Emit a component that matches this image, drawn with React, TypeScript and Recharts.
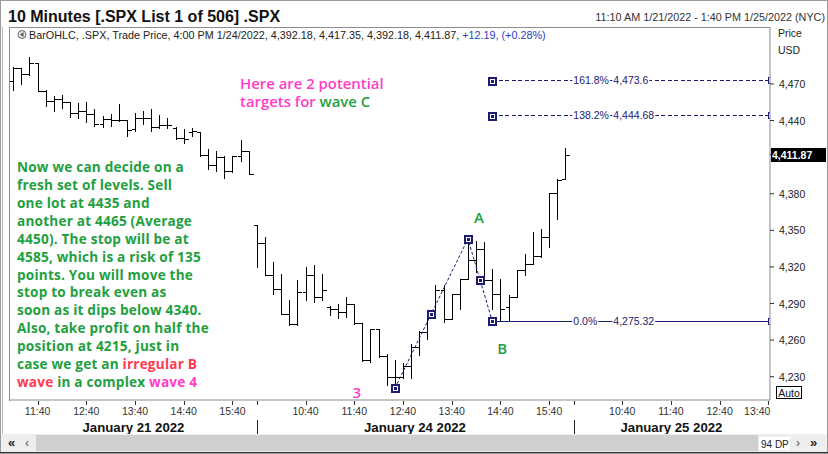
import React from 'react';
import {
  ComposedChart,
  Bar,
  Line,
  Scatter,
  XAxis,
  YAxis,
  ReferenceLine,
  ReferenceDot,
} from 'recharts';

// ---- 10-minute OHLC bars: Jan 21 11:10 (slot 0) through Jan 24 16:00 (slot 68) ----
const opens = [
  4472.8, 4483.1, 4478.5, 4486.9, 4464.6, 4456.4, 4457.3, 4455.1, 4446.4, 4447.7,
  4445.5, 4436.8, 4440.9, 4440.1, 4440.1, 4432.8, 4441.7, 4442.3, 4434.7, 4436.3,
  4434.1, 4425.4, 4430.9, 4430.9, 4411.8, 4403.6, 4410.2, 4398.7, 4411.0, 4415.1,
  4354.6, 4339.4, 4313.0, 4302.1, 4281.7, 4273.0, 4299.4, 4313.0, 4295.3, 4287.2,
  4285.8, 4283.1, 4289.3, 4274.1, 4243.6, 4269.5, 4246.9, 4230.0, 4230.0, 4238.7,
  4254.5, 4266.8, 4281.7, 4300.8, 4277.6, 4298.0, 4310.3, 4325.8, 4334.8, 4308.9,
  4298.0, 4287.2, 4295.3, 4317.1, 4322.5, 4329.3, 4344.3, 4381.0, 4392.18,
];
const highs = [
  4483.6, 4483.4, 4492.1, 4487.4, 4465.4, 4460.0, 4461.3, 4455.1, 4454.5, 4455.1,
  4449.1, 4443.6, 4445.0, 4453.2, 4440.1, 4446.4, 4447.7, 4449.1, 4444.5, 4441.7,
  4434.7, 4432.8, 4434.1, 4430.9, 4416.4, 4415.1, 4411.0, 4411.0, 4423.8, 4415.1,
  4354.6, 4344.8, 4323.9, 4314.4, 4292.6, 4308.9, 4319.8, 4321.2, 4313.8, 4287.7,
  4289.9, 4295.3, 4289.9, 4274.1, 4269.5, 4269.5, 4248.5, 4243.6, 4241.4, 4256.7,
  4267.6, 4284.4, 4304.8, 4304.8, 4298.0, 4310.3, 4343.05, 4341.6, 4340.2, 4318.5,
  4310.3, 4296.7, 4317.6, 4330.7, 4348.4, 4351.1, 4381.0, 4392.0, 4417.35,
];
const lows = [
  4465.4, 4470.0, 4477.6, 4464.6, 4451.8, 4447.7, 4450.4, 4442.8, 4442.3, 4439.0,
  4435.5, 4434.7, 4435.5, 4439.6, 4427.3, 4431.4, 4436.8, 4431.4, 4434.1, 4433.6,
  4424.6, 4421.9, 4427.3, 4411.0, 4400.1, 4398.7, 4393.3, 4398.2, 4406.9, 4396.0,
  4319.8, 4313.0, 4298.0, 4281.7, 4272.2, 4272.2, 4292.6, 4291.2, 4292.6, 4280.4,
  4278.5, 4279.0, 4273.6, 4243.1, 4242.3, 4245.8, 4223.2, 4220.5, 4228.7, 4228.7,
  4247.7, 4261.3, 4280.4, 4274.9, 4277.6, 4285.8, 4310.3, 4315.7, 4308.9, 4285.8,
  4275.32, 4276.0, 4295.3, 4313.0, 4322.5, 4328.0, 4336.1, 4359.3, 4392.18,
];
const closes = [
  4483.1, 4478.5, 4487.4, 4464.6, 4456.4, 4457.3, 4455.1, 4446.4, 4447.7, 4445.5,
  4436.8, 4440.9, 4440.1, 4440.1, 4432.2, 4441.7, 4442.3, 4434.7, 4436.3, 4436.3,
  4425.4, 4424.9, 4431.4, 4411.8, 4403.6, 4410.2, 4398.7, 4411.0, 4415.1, 4396.0,
  4339.4, 4313.0, 4302.1, 4281.7, 4273.0, 4299.4, 4313.0, 4295.3, 4300.8, 4285.8,
  4283.1, 4289.3, 4274.1, 4243.6, 4269.5, 4246.9, 4230.0, 4230.0, 4238.7, 4254.5,
  4266.8, 4281.7, 4300.8, 4277.6, 4298.0, 4310.3, 4325.8, 4334.8, 4308.9, 4298.0,
  4285.8, 4295.3, 4317.1, 4322.5, 4329.3, 4344.3, 4381.0, 4391.0, 4411.87,
];

// ---- time axis: 94 ten-minute slots (Jan 21, Jan 24, Jan 25 up to 13:40) ----
const timeTickSlots = [3, 9, 15, 21, 27, 30, 36, 42, 48, 54, 60, 66, 69, 75, 81, 87, 93];
const timeTickLabels = [
  '11:40', '12:40', '13:40', '14:40', '15:40', '',
  '10:40', '11:40', '12:40', '13:40', '14:40', '15:40', '',
  '10:40', '11:40', '12:40', '13:40',
];
const sessionBreaks = [30, 69];
const dayLabels = ['January 21 2022', 'January 24 2022', 'January 25 2022'];

// ---- price axis ----
const priceTicks = [4230, 4260, 4290, 4320, 4350, 4380, 4440, 4470];
const lastClose = 4411.87;

// ---- wave 3 / A / B anchors and Fibonacci projection levels ----
const waveAnchorNames = ['3', 'A', 'B'];
const waveAnchorSlots = [47, 56, 59];
const waveAnchorPrices = [4220.5, 4343.05, 4275.32];
const fibRatios = ['161.8%', '138.2%', '0.0%'];
const fibValues = [4473.6, 4444.68, 4275.32];

const X_DOMAIN: [number, number] = [-0.4, 93.2];
const Y_DOMAIN: [number, number] = [4210.9, 4516.7];

const GREEN = '#1fa03f';
const PINK = '#ff3cc8';
const RED = '#ff3a50';
const NAVY = '#1c1c72';
const FONT = '"Liberation Sans", Arial, sans-serif';
const NOTE_FONT = '"Open Sans", "DejaVu Sans", sans-serif';

const bars = opens.map((o, i) => ({
  i,
  open: o,
  high: highs[i],
  low: lows[i],
  close: closes[i],
}));

const waveLine = waveAnchorSlots.map((s, k) => ({ i: s, v: waveAnchorPrices[k] }));
// drawing-tool handles: each anchor plus the middle of each leg
const waveHandles = waveLine.flatMap((p, k) =>
  k === 0
    ? [p]
    : [{ i: (waveLine[k - 1].i + p.i) / 2, v: (waveLine[k - 1].v + p.v) / 2 }, p]
);

const fmt = (v: number, d = 0) =>
  v.toLocaleString('en-US', { minimumFractionDigits: d, maximumFractionDigits: d });
const fmtLevel = (v: number) => {
  const s = String(v);
  const d = s.includes('.') ? s.split('.')[1].length : 0;
  return fmt(v, d);
};

// approximate Arial advance widths, used to size the label knock-out boxes
const textWidth = (s: string, size: number) =>
  s.split('').reduce((w, ch) => {
    if (ch === '.' || ch === ',') return w + 0.278;
    if (ch === '%') return w + 0.889;
    return w + 0.556;
  }, 0) * size;

// one OHLC bar: high-low stem, open tick left, close tick right
const OhlcShape = (props: any) => {
  const { x, y, width, height, payload } = props;
  if (x == null || y == null || !payload) return null;
  const cx = Math.round(x + width / 2) + 0.5;
  const top = Math.min(y, y + height);
  const bottom = Math.max(y, y + height);
  const span = payload.high - payload.low;
  const k = span > 0 ? (bottom - top) / span : 0;
  const yo = Math.round(top + (payload.high - payload.open) * k) + 0.5;
  const yc = Math.round(top + (payload.high - payload.close) * k) + 0.5;
  return (
    <g stroke="#000" strokeWidth={1} shapeRendering="crispEdges">
      <line x1={cx} x2={cx} y1={Math.round(top)} y2={Math.round(bottom) + 1} />
      <line x1={cx - 4} x2={cx} y1={yo} y2={yo} />
      <line x1={cx} x2={cx + 4} y1={yc} y2={yc} />
    </g>
  );
};

const Handle = ({ cx, cy }: { cx: number; cy: number }) => {
  const x = Math.round(cx) + 0.5;
  const y = Math.round(cy) + 0.5;
  return (
    <g shapeRendering="crispEdges">
      <rect x={x - 3.5} y={y - 3.5} width={7} height={7} fill="#fff" stroke={NAVY} strokeWidth={1.3} />
      <rect x={x - 1.5} y={y - 1.5} width={3} height={3} fill={NAVY} />
    </g>
  );
};

const LevelText = ({ x, y, text }: { x: number; y: number; text: string }) => {
  const w = textWidth(text, 10.5);
  return (
    <g>
      <rect x={x - 1} y={y - 6} width={w + 2} height={12} fill="#fff" />
      <text x={x} y={y + 3.8} fontFamily={FONT} fontSize={10.5} fill={NAVY}>
        {text}
      </text>
    </g>
  );
};

const fibShape = (k: number) => (p: any) => {
  const { x1, y1, x2 } = p;
  const dashed = fibValues[k] !== waveAnchorPrices[2];
  const y = Math.round(y1) + 0.5;
  const bx = Math.round(x2) - 1.5;
  return (
    <g>
      <line
        x1={x1}
        x2={bx}
        y1={y}
        y2={y}
        stroke={NAVY}
        strokeWidth={1}
        strokeDasharray={dashed ? '4 2.5' : undefined}
        shapeRendering="crispEdges"
      />
      <path
        d={`M${bx + 1.5},${y - 3}H${bx}V${y + 3}H${bx + 1.5}`}
        fill="none"
        stroke={NAVY}
        strokeWidth={1}
        shapeRendering="crispEdges"
      />
      <LevelText x={x1 + 81} y={y} text={fibRatios[k]} />
      <LevelText x={x1 + 121} y={y} text={fmtLevel(fibValues[k])} />
      {dashed && <Handle cx={x1} cy={y} />}
    </g>
  );
};

const TimeTick = (p: any) => {
  const { x, y, payload } = p;
  const slot = payload.value;
  const k = timeTickSlots.indexOf(slot);
  const label = timeTickLabels[k];
  const isBreak = sessionBreaks.includes(slot);
  const isLast = k === timeTickSlots.length - 1;
  const xx = Math.round(x) + 0.5;
  return (
    <g>
      <line x1={xx} x2={xx} y1={y + 1} y2={y + 5} stroke="#333" shapeRendering="crispEdges" />
      {isBreak && (
        <line x1={xx} x2={xx} y1={y + 20} y2={y + 34} stroke="#222" shapeRendering="crispEdges" />
      )}
      {label && (
        <text
          x={isLast ? x + 2 : x}
          y={y + 15}
          textAnchor={isLast ? 'end' : 'middle'}
          fontFamily={FONT}
          fontSize={10.5}
          fill="#333"
        >
          {label}
        </text>
      )}
    </g>
  );
};

const PriceTick = (p: any) => {
  const { x, y, payload } = p;
  const v = payload.value;
  if (v === lastClose) {
    return (
      <g>
        <rect x={x - 8} y={Math.round(y) - 7} width={55} height={14} fill="#000" />
        <text x={x - 7} y={y + 4} fontFamily={FONT} fontSize={10.5} fontWeight="bold" fill="#fff">
          {fmt(v, 2)}
        </text>
      </g>
    );
  }
  return (
    <text x={x} y={y + 4} fontFamily={FONT} fontSize={10.5} fill="#222">
      {fmt(v)}
    </text>
  );
};

const waveLabelShape = (k: number) => (p: any) => {
  const { cx, cy } = p;
  const off = [
    [-38, 4],
    [11, -21],
    [10, 27],
  ][k];
  return (
    <text
      x={cx + off[0]}
      y={cy + off[1]}
      dy={5.5}
      textAnchor="middle"
      fontFamily={NOTE_FONT}
      fontWeight={600}
      fontSize={15}
      fill={k === 0 ? PINK : GREEN}
    >
      {waveAnchorNames[k]}
    </text>
  );
};

type Seg = [string, string];
const noteLines: Seg[][] = [
  [['Now we can decide on a', GREEN]],
  [['fresh set of levels. Sell', GREEN]],
  [['one lot at 4435 and', GREEN]],
  [['another at 4465 (Average', GREEN]],
  [['4450). The stop will be at', GREEN]],
  [['4585, which is a risk of 135', GREEN]],
  [['points. You will move the', GREEN]],
  [['stop to break even as', GREEN]],
  [['soon as it dips below 4340.', GREEN]],
  [['Also, take profit on half the', GREEN]],
  [['position at 4215, just in', GREEN]],
  [['case we get an ', GREEN], ['irregular B', RED]],
  [['wave', RED], [' in a complex ', GREEN], ['wave 4', PINK]],
];
const targetLines: Seg[][] = [
  [['Here are 2 potential', PINK]],
  [['targets for ', PINK], ['wave C', GREEN]],
];

const Chrome = () => (
  <svg
    width={828}
    height={454}
    style={{ position: 'absolute', left: 0, top: 0, pointerEvents: 'none' }}
  >
    {/* window frame */}
    <rect x={0.5} y={0.5} width={827} height={453} fill="none" stroke="#9a9a9a" />
    <line x1={2.5} x2={2.5} y1={27} y2={434} stroke="#b8b8b8" />
    {/* header */}
    <text x={8} y={22} fontFamily={FONT} fontWeight="bold" fontSize={16} fill="#111">
      10 Minutes [.SPX List 1 of 506] .SPX
    </text>
    <text x={825} y={21} textAnchor="end" fontFamily={FONT} fontSize={10.8} fill="#333">
      11:10 AM 1/21/2022 - 1:40 PM 1/25/2022 (NYC)
    </text>
    {/* plot panel left / top border */}
    <line x1={9.5} x2={9.5} y1={27} y2={401} stroke="#8c8c8c" />
    <line x1={9} x2={770} y1={27.5} y2={27.5} stroke="#8c8c8c" />
    {/* study info line */}
    <circle cx={22} cy={34.5} r={4} fill="#e6e6e6" stroke="#666" />
    <path d="M20,34.5 L23.5,32 L23.5,37 Z" fill="#555" />
    <text x={29} y={38.5} fontFamily={FONT} fontSize={10.8} fill="#222">
      BarOHLC, .SPX, Trade Price, 4:00 PM 1/24/2022, 4,392.18, 4,417.35, 4,392.18, 4,411.87,{' '}
      <tspan fill="#2a3fc4">+12.19, (+0.28%)</tspan>
    </text>
    {/* price axis caption */}
    <text x={778} y={37} fontFamily={FONT} fontSize={10.5} fill="#222">Price</text>
    <text x={778} y={54} fontFamily={FONT} fontSize={10.5} fill="#222">USD</text>
    <rect x={776.5} y={386.5} width={25} height={12} fill="#fff" stroke="#000" />
    <text x={789} y={396.5} textAnchor="middle" fontFamily={FONT} fontSize={10.5} fill="#111">
      Auto
    </text>
    {/* day captions */}
    {dayLabels.map((d, k) => (
      <text
        key={d}
        x={[133.5, 415, 671.5][k]}
        y={431.5}
        textAnchor="middle"
        fontFamily={FONT}
        fontWeight="bold"
        fontSize={13.2}
        fill="#111"
      >
        {d}
      </text>
    ))}
    {/* scroll bar */}
    <rect x={1} y={434} width={826} height={18} fill="#eeeeee" />
    <rect x={36} y={435} width={722} height={16} fill="#cfcfcf" />
    <text x={8} y={447} fontFamily={FONT} fontWeight="bold" fontSize={13} fill="#222">«</text>
    <text x={25} y={447} fontFamily={FONT} fontSize={12} fill="#555">‹</text>
    <rect x={759} y={437} width={31} height={13} fill="#fff" />
    <text x={761} y={447.5} fontFamily={FONT} fontSize={10} fill="#222">94 DP</text>
    <text x={796} y={447} fontFamily={FONT} fontSize={12} fill="#555">›</text>
    <text x={810} y={447} fontFamily={FONT} fontWeight="bold" fontSize={13} fill="#222">»</text>
    <line x1={0} x2={828} y1={452.5} y2={452.5} stroke="#333" />
    {/* annotations */}
    {targetLines.map((segs, r) => (
      <text
        key={r}
        x={240}
        y={88.5 + r * 18.5}
        fontFamily={NOTE_FONT}
        fontWeight={600}
        fontSize={14.9}
        style={{ whiteSpace: 'pre' }}
      >
        {segs.map(([t, c], j) => (
          <tspan key={j} fill={c}>{t}</tspan>
        ))}
      </text>
    ))}
    {noteLines.map((segs, r) => (
      <text
        key={r}
        x={17}
        y={171.7 + r * 17.97}
        fontFamily={NOTE_FONT}
        fontWeight={700}
        fontSize={13.6}
        letterSpacing={0.2}
        style={{ whiteSpace: 'pre' }}
      >
        {segs.map(([t, c], j) => (
          <tspan key={j} fill={c}>{t}</tspan>
        ))}
      </text>
    ))}
  </svg>
);

export default function App() {
  return (
    <div
      style={{
        position: 'absolute',
        left: 0,
        top: 0,
        width: 828,
        height: 454,
        background: '#fff',
        fontFamily: FONT,
        overflow: 'hidden',
      }}
    >
      <div style={{ position: 'absolute', left: 0, top: 0 }}>
        <ComposedChart
          width={828}
          height={454}
          data={bars}
          margin={{ top: 27, right: 0, bottom: 20, left: 10 }}
        >
          <XAxis
            type="number"
            dataKey="i"
            domain={X_DOMAIN}
            allowDataOverflow
            ticks={timeTickSlots}
            interval={0}
            tick={<TimeTick />}
            tickLine={false}
            tickSize={0}
            tickMargin={0}
            height={34}
            axisLine={{ stroke: '#8c8c8c' }}
          />
          <YAxis
            type="number"
            orientation="right"
            domain={Y_DOMAIN}
            allowDataOverflow
            ticks={[...priceTicks.slice(0, 6), lastClose, ...priceTicks.slice(6)]}
            interval={0}
            width={58}
            tickSize={4}
            tickMargin={5}
            tick={<PriceTick />}
            tickLine={{ stroke: '#333' }}
            axisLine={{ stroke: '#8c8c8c' }}
          />
          <Bar
            dataKey={(d: any) => [d.low, d.high]}
            barSize={4}
            shape={<OhlcShape />}
            isAnimationActive={false}
          />
          {fibValues.map((v, k) => (
            <ReferenceLine
              key={fibRatios[k]}
              segment={[
                { x: waveAnchorSlots[2], y: v },
                { x: X_DOMAIN[1], y: v },
              ]}
              ifOverflow="visible"
              shape={fibShape(k)}
            />
          ))}
          <Line
            data={waveLine}
            dataKey="v"
            stroke={NAVY}
            strokeWidth={1}
            strokeDasharray="3 2"
            dot={false}
            activeDot={false}
            isAnimationActive={false}
          />
          <Scatter
            data={waveHandles}
            dataKey="v"
            isAnimationActive={false}
            shape={(p: any) => <Handle cx={p.cx} cy={p.cy} />}
          />
          {waveAnchorSlots.map((s, k) => (
            <ReferenceDot
              key={waveAnchorNames[k]}
              x={s}
              y={waveAnchorPrices[k]}
              r={0}
              ifOverflow="visible"
              shape={waveLabelShape(k)}
            />
          ))}
        </ComposedChart>
      </div>
      <Chrome />
    </div>
  );
}
